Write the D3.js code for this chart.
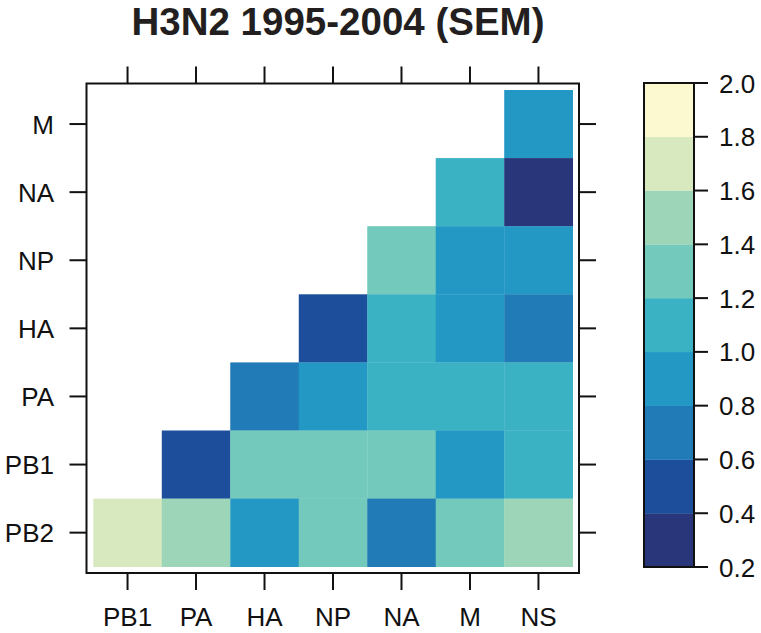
<!DOCTYPE html>
<html>
<head>
<meta charset="utf-8">
<script src="https://cdn.jsdelivr.net/npm/d3@7"></script>
<style>
  html, body { margin: 0; padding: 0; background: #fff; }
  svg { display: block; font-family: "Liberation Sans", Arial, Helvetica, sans-serif; }
</style>
</head>
<body>
<svg id="chart" width="761" height="633"></svg>
<script>
const title = "H3N2 1995-2004 (SEM)";
const xCategories = ["PB1", "PA", "HA", "NP", "NA", "M", "NS"];
const yCategories = ["M", "NA", "NP", "HA", "PA", "PB1", "PB2"];
// values[row][col], rows follow yCategories (top to bottom), cols follow xCategories
const values = [
  [null, null, null, null, null, null, 0.9],
  [null, null, null, null, null, 1.1, 0.3],
  [null, null, null, null, 1.3, 0.9, 0.9],
  [null, null, null, 0.5, 1.1, 0.9, 0.7],
  [null, null, 0.7, 0.9, 1.1, 1.1, 1.1],
  [null, 0.5, 1.3, 1.3, 1.3, 0.9, 1.1],
  [1.7, 1.5, 0.9, 1.3, 0.7, 1.3, 1.5]
];
const colorBreaks = [0.2, 0.4, 0.6, 0.8, 1.0, 1.2, 1.4, 1.6, 1.8, 2.0];
const colorBands = ["#293679", "#1c4e9b", "#217bb7", "#2398c5", "#3bb1c4",
                    "#73c9bc", "#9dd5b8", "#d9e9bf", "#fcf9d0"];
const colorbarTicks = ["0.2", "0.4", "0.6", "0.8", "1.0", "1.2", "1.4", "1.6", "1.8", "2.0"];

const svg = d3.select("#chart");

const x = d3.scaleBand().domain(xCategories).range([93.3, 572.7]).padding(0);
const y = d3.scaleBand().domain(yCategories).range([90, 566.7]).padding(0);
const color = d3.scaleThreshold().domain(colorBreaks.slice(1, -1)).range(colorBands);

const box = { x0: 86.5, x1: 579, y0: 83.5, y1: 573 };

// title
svg.append("text")
  .attr("x", 338).attr("y", 35)
  .attr("text-anchor", "middle")
  .attr("font-weight", "bold")
  .attr("font-size", 38.5)
  .attr("fill", "#231f20")
  .text(title);

// cells
const cells = [];
values.forEach((row, i) => row.forEach((v, j) => {
  if (v !== null) cells.push({ r: yCategories[i], c: xCategories[j], v });
}));
svg.append("g").selectAll("rect").data(cells).join("rect")
  .attr("x", d => x(d.c))
  .attr("y", d => y(d.r))
  .attr("width", x.bandwidth() + 0.3)
  .attr("height", y.bandwidth() + 0.3)
  .attr("fill", d => color(d.v));

// box
svg.append("rect")
  .attr("x", box.x0).attr("y", box.y0)
  .attr("width", box.x1 - box.x0).attr("height", box.y1 - box.y0)
  .attr("fill", "none").attr("stroke", "#111").attr("stroke-width", 2);

const tickLen = 17;
const tickStyle = sel => sel.attr("stroke", "#111").attr("stroke-width", 2);

// x ticks (bottom and top)
const xg = svg.append("g");
xCategories.forEach(c => {
  const cx = x(c) + x.bandwidth() / 2;
  xg.append("line").attr("x1", cx).attr("x2", cx).attr("y1", box.y1).attr("y2", box.y1 + tickLen).call(tickStyle);
  xg.append("line").attr("x1", cx).attr("x2", cx).attr("y1", box.y0).attr("y2", box.y0 - tickLen).call(tickStyle);
  xg.append("text").attr("x", cx).attr("y", 626)
    .attr("text-anchor", "middle").attr("font-size", 26).attr("fill", "#111").text(c);
});

// y ticks (left and right)
const yg = svg.append("g");
yCategories.forEach(r => {
  const cy = y(r) + y.bandwidth() / 2;
  yg.append("line").attr("y1", cy).attr("y2", cy).attr("x1", box.x0).attr("x2", box.x0 - tickLen).call(tickStyle);
  yg.append("line").attr("y1", cy).attr("y2", cy).attr("x1", box.x1).attr("x2", box.x1 + tickLen).call(tickStyle);
  yg.append("text").attr("x", 54).attr("y", cy + 9.5)
    .attr("text-anchor", "end").attr("font-size", 26).attr("fill", "#111").text(r);
});

// colorbar
const cb = { x0: 644, x1: 694, y0: 83, y1: 567 };
const cbY = d3.scaleLinear().domain([0.2, 2.0]).range([cb.y1, cb.y0]);
const bands = colorBands.map((c, i) => ({ lo: colorBreaks[i], hi: colorBreaks[i + 1], c }));
svg.append("g").selectAll("rect").data(bands).join("rect")
  .attr("x", cb.x0).attr("width", cb.x1 - cb.x0)
  .attr("y", d => cbY(d.hi)).attr("height", d => cbY(d.lo) - cbY(d.hi) + 0.3)
  .attr("fill", d => d.c);
svg.append("rect")
  .attr("x", cb.x0).attr("y", cb.y0)
  .attr("width", cb.x1 - cb.x0).attr("height", cb.y1 - cb.y0)
  .attr("fill", "none").attr("stroke", "#111").attr("stroke-width", 2);
const cg = svg.append("g");
colorbarTicks.forEach(t => {
  const ty = cbY(+t);
  cg.append("line").attr("x1", cb.x1).attr("x2", cb.x1 + 14).attr("y1", ty).attr("y2", ty).call(tickStyle);
  cg.append("text").attr("x", 719).attr("y", ty + 9.5)
    .attr("font-size", 26).attr("fill", "#111").text(t);
});
</script>
</body>
</html>
